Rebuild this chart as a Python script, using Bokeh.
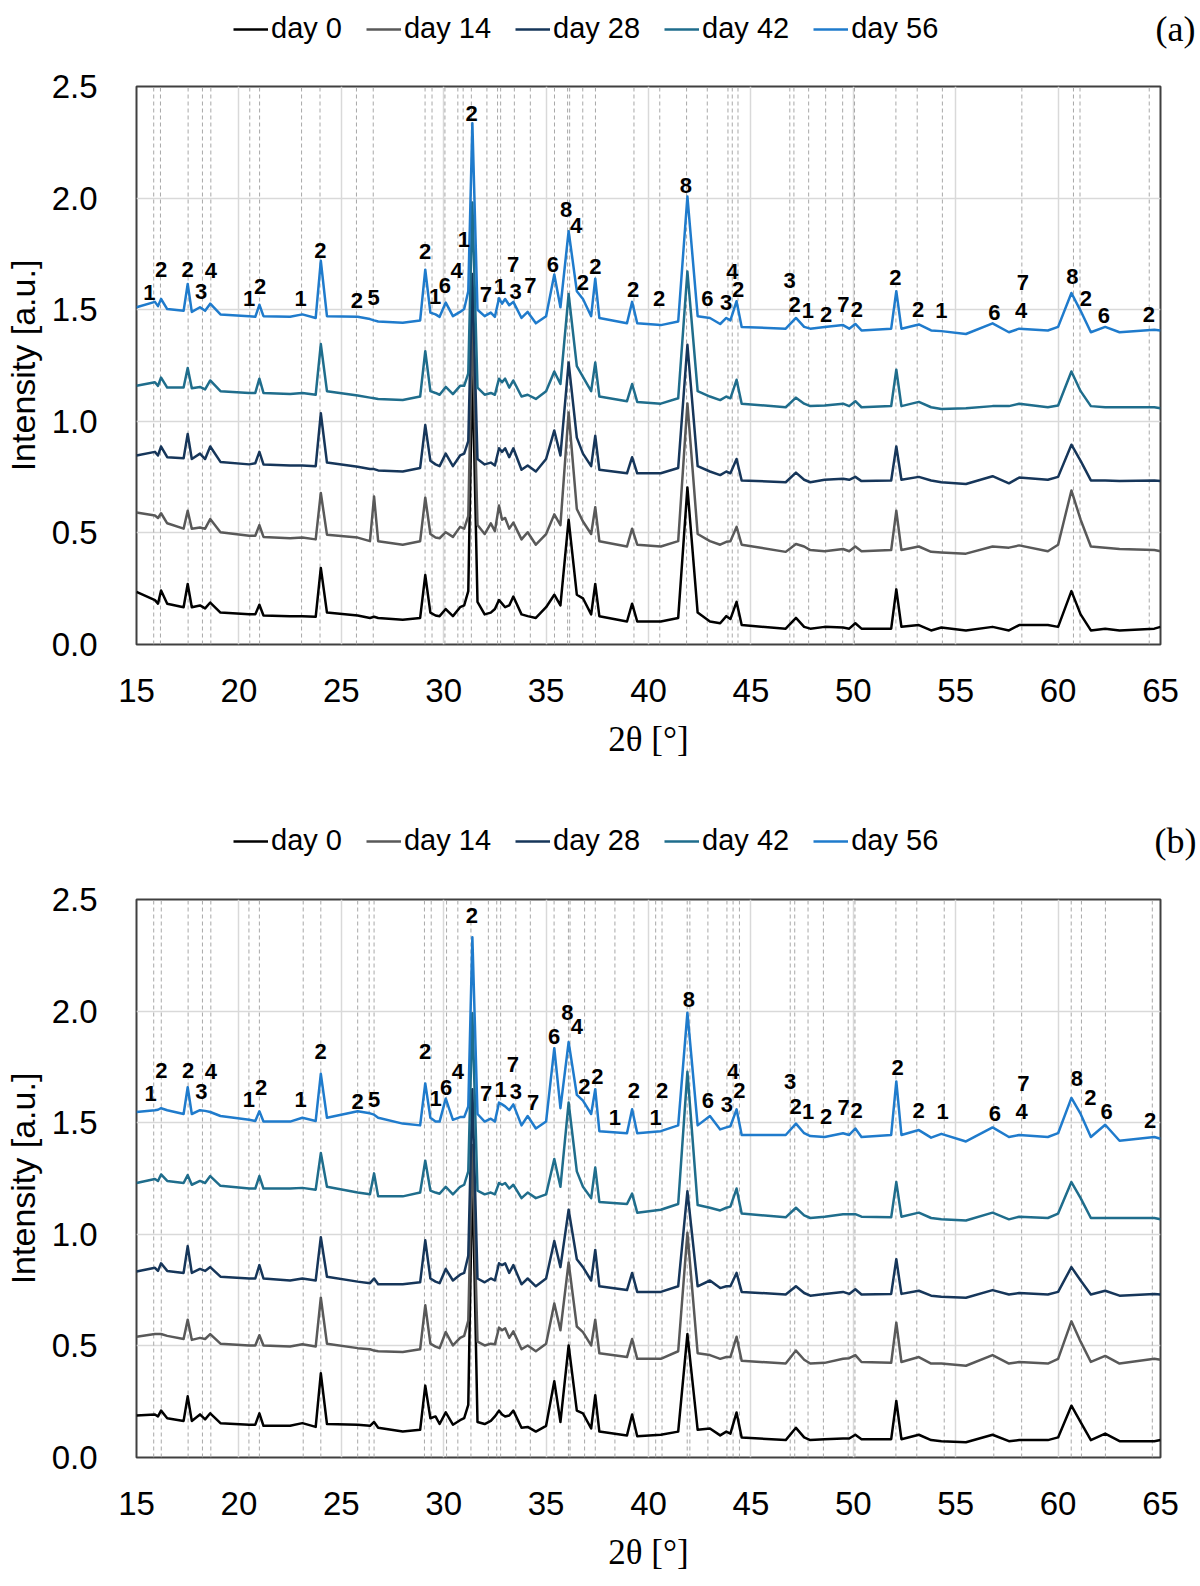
from bokeh.plotting import figure
from bokeh.models import (Range1d, FixedTicker, PrintfTickFormatter, Legend,
                          LegendItem, Label, ColumnDataSource)
from bokeh.layouts import column
from bokeh.embed import file_html
from bokeh.resources import INLINE
from bokeh.core.properties import value

# ---------------- data ----------------
SERIES = ["day 0", "day 14", "day 28", "day 42", "day 56"]
COLORS = ["#000000", "#595959", "#16365a", "#1f6d8c", "#1f7bcc"]

X_TICKS = [15, 20, 25, 30, 35, 40, 45, 50, 55, 60, 65]
Y_TICKS = [0.0, 0.5, 1.0, 1.5, 2.0, 2.5]
X_MIN, X_MAX = 15, 65
Y_MIN, Y_MAX = 0.0, 2.5

TWO_THETA = [15.0, 15.9, 16.05, 16.2, 16.5, 17.3, 17.5, 17.7, 18.1, 18.35,
             18.6, 19.1, 20.5, 20.8, 21.0, 21.2, 22.5, 23.1, 23.75, 24.0,
             24.3, 25.8, 26.4, 26.6, 26.8, 28.0, 28.85, 29.1, 29.35, 29.6,
             29.8, 30.1, 30.45, 30.8, 31.0, 31.2, 31.4, 31.65, 32.0, 32.3,
             32.5, 32.7, 32.85, 33.0, 33.2, 33.4, 33.8, 34.1, 34.5, 35.0,
             35.4, 35.7, 36.1, 36.5, 36.8, 37.2, 37.4, 37.6, 38.95, 39.2,
             39.45, 40.6, 41.45, 41.9, 42.4, 43.0, 43.5, 43.8, 44.0, 44.3,
             44.55, 46.7, 47.2, 47.6, 47.9, 48.6, 49.5, 49.8, 50.1, 50.4,
             51.85, 52.1, 52.35, 53.2, 53.8, 54.3, 55.5, 56.8, 57.6, 58.1,
             59.5, 60.0, 60.65, 61.1, 61.6, 62.3, 63.0, 64.7, 65.0]

# panel (a)
A_DAY0 = [0.236, 0.199, 0.183, 0.242, 0.183, 0.167, 0.271, 0.167, 0.175, 0.162,
          0.188, 0.143, 0.135, 0.135, 0.178, 0.130, 0.127, 0.127, 0.124, 0.343,
          0.143, 0.130, 0.119, 0.124, 0.119, 0.111, 0.119, 0.311, 0.143, 0.130,
          0.127, 0.159, 0.127, 0.167, 0.175, 0.239, 1.250, 0.191, 0.135, 0.143,
          0.159, 0.199, 0.183, 0.167, 0.175, 0.215, 0.135, 0.127, 0.119, 0.167,
          0.223, 0.175, 0.559, 0.223, 0.207, 0.135, 0.271, 0.127, 0.103, 0.183,
          0.103, 0.103, 0.119, 0.703, 0.143, 0.103, 0.095, 0.127, 0.114, 0.191,
          0.087, 0.071, 0.119, 0.079, 0.071, 0.079, 0.076, 0.071, 0.095, 0.071,
          0.071, 0.247, 0.079, 0.087, 0.063, 0.076, 0.063, 0.079, 0.063, 0.087,
          0.087, 0.079, 0.239, 0.135, 0.063, 0.071, 0.063, 0.071, 0.079]
A_DAY14 = [0.591, 0.578, 0.567, 0.588, 0.543, 0.519, 0.599, 0.519, 0.524, 0.519,
           0.562, 0.503, 0.487, 0.487, 0.535, 0.482, 0.476, 0.479, 0.471, 0.679,
           0.492, 0.479, 0.463, 0.663, 0.463, 0.447, 0.463, 0.658, 0.495, 0.479,
           0.476, 0.503, 0.482, 0.527, 0.519, 0.575, 1.450, 0.535, 0.495, 0.543,
           0.508, 0.623, 0.559, 0.567, 0.519, 0.546, 0.471, 0.503, 0.447, 0.495,
           0.583, 0.535, 1.039, 0.607, 0.551, 0.495, 0.615, 0.463, 0.439, 0.519,
           0.447, 0.439, 0.463, 1.080, 0.495, 0.463, 0.447, 0.460, 0.463, 0.527,
           0.447, 0.415, 0.450, 0.439, 0.423, 0.418, 0.428, 0.418, 0.439, 0.418,
           0.423, 0.599, 0.423, 0.439, 0.415, 0.412, 0.407, 0.439, 0.434, 0.444,
           0.418, 0.447, 0.690, 0.559, 0.439, 0.434, 0.428, 0.423, 0.418]
A_DAY28 = [0.847, 0.863, 0.847, 0.887, 0.839, 0.834, 0.943, 0.831, 0.855, 0.831,
           0.887, 0.818, 0.807, 0.812, 0.863, 0.807, 0.802, 0.802, 0.799, 1.036,
           0.815, 0.796, 0.786, 0.786, 0.780, 0.775, 0.791, 0.983, 0.823, 0.807,
           0.799, 0.855, 0.799, 0.847, 0.855, 0.911, 1.660, 0.831, 0.807, 0.815,
           0.802, 0.879, 0.863, 0.879, 0.839, 0.879, 0.783, 0.802, 0.775, 0.831,
           0.959, 0.847, 1.263, 0.927, 0.855, 0.799, 0.935, 0.783, 0.767, 0.839,
           0.767, 0.767, 0.791, 1.343, 0.799, 0.775, 0.759, 0.775, 0.767, 0.831,
           0.735, 0.727, 0.770, 0.738, 0.727, 0.738, 0.743, 0.738, 0.751, 0.732,
           0.735, 0.887, 0.738, 0.751, 0.735, 0.727, 0.719, 0.754, 0.722, 0.748,
           0.738, 0.751, 0.895, 0.823, 0.735, 0.735, 0.732, 0.735, 0.732]
A_DAY42 = [1.159, 1.175, 1.159, 1.196, 1.151, 1.151, 1.239, 1.148, 1.154, 1.143,
           1.183, 1.135, 1.127, 1.127, 1.191, 1.127, 1.122, 1.127, 1.119, 1.346,
           1.135, 1.116, 1.106, 1.103, 1.100, 1.095, 1.111, 1.314, 1.135, 1.127,
           1.119, 1.154, 1.122, 1.159, 1.159, 1.215, 1.980, 1.151, 1.119, 1.127,
           1.119, 1.191, 1.175, 1.191, 1.151, 1.183, 1.111, 1.119, 1.100, 1.135,
           1.223, 1.167, 1.570, 1.247, 1.199, 1.135, 1.263, 1.111, 1.090, 1.167,
           1.087, 1.079, 1.103, 1.671, 1.135, 1.111, 1.095, 1.111, 1.103, 1.186,
           1.079, 1.063, 1.106, 1.079, 1.068, 1.071, 1.079, 1.068, 1.090, 1.063,
           1.068, 1.231, 1.068, 1.087, 1.063, 1.055, 1.058, 1.068, 1.068, 1.079,
           1.063, 1.071, 1.223, 1.135, 1.068, 1.063, 1.063, 1.063, 1.058]
A_DAY56 = [1.511, 1.535, 1.516, 1.548, 1.503, 1.495, 1.615, 1.490, 1.511, 1.495,
           1.527, 1.479, 1.471, 1.468, 1.522, 1.471, 1.468, 1.479, 1.463, 1.719,
           1.471, 1.468, 1.458, 1.452, 1.447, 1.442, 1.452, 1.679, 1.487, 1.479,
           1.468, 1.532, 1.471, 1.490, 1.503, 1.583, 2.335, 1.500, 1.471, 1.487,
           1.468, 1.551, 1.527, 1.548, 1.520, 1.535, 1.463, 1.490, 1.439, 1.471,
           1.658, 1.511, 1.852, 1.583, 1.548, 1.471, 1.639, 1.463, 1.439, 1.535,
           1.439, 1.431, 1.447, 2.007, 1.471, 1.463, 1.436, 1.463, 1.452, 1.538,
           1.423, 1.415, 1.463, 1.423, 1.415, 1.423, 1.431, 1.415, 1.436, 1.407,
           1.415, 1.583, 1.415, 1.434, 1.407, 1.404, 1.391, 1.439, 1.399, 1.415,
           1.407, 1.423, 1.575, 1.495, 1.399, 1.423, 1.399, 1.410, 1.407]

# panel (b)
B_DAY0 = [0.188, 0.193, 0.184, 0.210, 0.176, 0.164, 0.274, 0.164, 0.193, 0.171,
          0.198, 0.154, 0.147, 0.147, 0.198, 0.142, 0.142, 0.154, 0.137, 0.377,
          0.150, 0.147, 0.142, 0.159, 0.133, 0.116, 0.124, 0.322, 0.176, 0.184,
          0.150, 0.202, 0.147, 0.167, 0.176, 0.236, 1.300, 0.159, 0.150, 0.164,
          0.184, 0.210, 0.193, 0.184, 0.188, 0.210, 0.133, 0.137, 0.116, 0.142,
          0.342, 0.159, 0.502, 0.210, 0.198, 0.130, 0.279, 0.116, 0.099, 0.193,
          0.095, 0.102, 0.116, 0.553, 0.124, 0.130, 0.099, 0.116, 0.107, 0.202,
          0.090, 0.078, 0.133, 0.090, 0.078, 0.082, 0.085, 0.085, 0.102, 0.082,
          0.082, 0.253, 0.082, 0.102, 0.078, 0.073, 0.068, 0.102, 0.073, 0.078,
          0.078, 0.090, 0.232, 0.159, 0.078, 0.107, 0.073, 0.073, 0.078]
B_DAY14 = [0.541, 0.553, 0.553, 0.553, 0.545, 0.531, 0.617, 0.527, 0.536, 0.531,
           0.553, 0.510, 0.502, 0.502, 0.548, 0.502, 0.497, 0.507, 0.497, 0.716,
           0.510, 0.490, 0.485, 0.479, 0.476, 0.473, 0.485, 0.682, 0.510, 0.497,
           0.490, 0.562, 0.502, 0.536, 0.545, 0.613, 1.400, 0.519, 0.502, 0.510,
           0.507, 0.582, 0.570, 0.579, 0.536, 0.565, 0.485, 0.502, 0.476, 0.510,
           0.690, 0.570, 0.874, 0.587, 0.562, 0.502, 0.617, 0.467, 0.450, 0.531,
           0.442, 0.442, 0.476, 1.007, 0.467, 0.459, 0.442, 0.450, 0.450, 0.541,
           0.433, 0.421, 0.479, 0.438, 0.421, 0.424, 0.442, 0.445, 0.459, 0.428,
           0.424, 0.604, 0.428, 0.450, 0.421, 0.421, 0.411, 0.459, 0.421, 0.428,
           0.421, 0.442, 0.610, 0.519, 0.428, 0.455, 0.421, 0.442, 0.438]
B_DAY28 = [0.833, 0.850, 0.836, 0.870, 0.836, 0.827, 0.947, 0.827, 0.845, 0.836,
           0.853, 0.810, 0.802, 0.802, 0.862, 0.802, 0.793, 0.802, 0.793, 0.987,
           0.810, 0.788, 0.781, 0.802, 0.776, 0.776, 0.785, 0.973, 0.802, 0.788,
           0.781, 0.845, 0.793, 0.819, 0.827, 0.904, 1.650, 0.802, 0.785, 0.802,
           0.793, 0.870, 0.862, 0.870, 0.827, 0.862, 0.776, 0.802, 0.767, 0.802,
           0.970, 0.853, 1.110, 0.888, 0.853, 0.793, 0.930, 0.767, 0.750, 0.827,
           0.742, 0.742, 0.767, 1.193, 0.767, 0.793, 0.759, 0.767, 0.767, 0.827,
           0.742, 0.730, 0.767, 0.737, 0.725, 0.733, 0.742, 0.733, 0.754, 0.730,
           0.733, 0.888, 0.733, 0.747, 0.725, 0.720, 0.716, 0.750, 0.730, 0.737,
           0.730, 0.742, 0.853, 0.793, 0.730, 0.747, 0.725, 0.733, 0.730]
B_DAY42 = [1.230, 1.248, 1.239, 1.268, 1.239, 1.230, 1.265, 1.222, 1.239, 1.230,
           1.261, 1.217, 1.205, 1.205, 1.261, 1.205, 1.205, 1.208, 1.200, 1.364,
           1.213, 1.187, 1.179, 1.273, 1.170, 1.170, 1.187, 1.330, 1.196, 1.187,
           1.182, 1.213, 1.179, 1.213, 1.222, 1.282, 1.990, 1.196, 1.179, 1.187,
           1.179, 1.230, 1.222, 1.230, 1.205, 1.222, 1.162, 1.187, 1.162, 1.179,
           1.337, 1.213, 1.590, 1.282, 1.213, 1.162, 1.299, 1.145, 1.136, 1.182,
           1.097, 1.110, 1.136, 1.728, 1.131, 1.119, 1.107, 1.119, 1.124, 1.205,
           1.093, 1.076, 1.119, 1.085, 1.073, 1.079, 1.090, 1.090, 1.090, 1.079,
           1.076, 1.234, 1.079, 1.097, 1.073, 1.067, 1.062, 1.097, 1.067, 1.079,
           1.073, 1.093, 1.234, 1.162, 1.073, 1.073, 1.073, 1.073, 1.067]
B_DAY56 = [1.548, 1.556, 1.558, 1.565, 1.556, 1.539, 1.659, 1.539, 1.556, 1.553,
           1.548, 1.530, 1.513, 1.508, 1.551, 1.505, 1.505, 1.522, 1.508, 1.719,
           1.522, 1.551, 1.542, 1.536, 1.522, 1.496, 1.488, 1.676, 1.522, 1.505,
           1.505, 1.608, 1.513, 1.525, 1.525, 1.573, 2.331, 1.539, 1.505, 1.518,
           1.505, 1.590, 1.582, 1.573, 1.556, 1.582, 1.488, 1.530, 1.474, 1.505,
           1.834, 1.565, 1.861, 1.625, 1.599, 1.539, 1.650, 1.462, 1.453, 1.560,
           1.453, 1.462, 1.488, 1.993, 1.488, 1.530, 1.470, 1.479, 1.484, 1.560,
           1.445, 1.445, 1.496, 1.453, 1.440, 1.436, 1.453, 1.445, 1.474, 1.436,
           1.445, 1.685, 1.445, 1.467, 1.433, 1.450, 1.416, 1.479, 1.436, 1.445,
           1.436, 1.453, 1.611, 1.539, 1.436, 1.491, 1.419, 1.436, 1.428]

# peak (phase) labels
A_LABEL_X = [15.63, 16.20, 17.50, 18.15, 18.63, 20.50, 21.03, 23.01, 23.98, 25.76,
             26.58, 29.09, 29.58, 30.06, 30.63, 30.99, 31.36, 32.06, 32.74, 33.39,
             33.51, 34.23, 35.33, 35.98, 36.46, 36.79, 37.41, 39.25, 40.52, 41.82,
             42.87, 43.79, 44.09, 44.38, 46.89, 47.13, 47.78, 48.67, 49.52, 50.17,
             52.06, 53.17, 54.30, 56.89, 58.28, 58.19, 60.70, 61.35, 62.24, 64.43]
A_LABEL_Y = [1.575, 1.682, 1.682, 1.583, 1.676, 1.551, 1.602, 1.551, 1.767, 1.543,
             1.554, 1.762, 1.559, 1.607, 1.676, 1.815, 2.380, 1.570, 1.602, 1.703,
             1.583, 1.607, 1.703, 1.948, 1.879, 1.623, 1.695, 1.591, 1.548, 2.055,
             1.548, 1.532, 1.671, 1.591, 1.631, 1.522, 1.495, 1.479, 1.522, 1.503,
             1.644, 1.500, 1.495, 1.487, 1.623, 1.495, 1.647, 1.548, 1.474, 1.479]
A_LABEL_T = ["1", "2", "2", "3", "4", "1", "2", "1", "2", "2",
             "5", "2", "1", "6", "4", "1", "2", "7", "1", "7",
             "3", "7", "6", "8", "4", "2", "2", "2", "2", "8",
             "6", "3", "4", "2", "3", "2", "1", "2", "7", "2",
             "2", "2", "1", "6", "7", "4", "8", "2", "6", "2"]

B_LABEL_X = [15.69, 16.21, 17.52, 18.17, 18.63, 20.49, 21.09, 23.01, 23.99, 25.80,
             26.60, 29.09, 29.60, 30.12, 30.69, 31.38, 32.07, 32.78, 33.38, 33.52,
             34.36, 35.39, 36.04, 36.50, 36.87, 37.50, 38.36, 39.29, 40.35, 40.66,
             41.97, 42.90, 43.83, 44.13, 44.44, 46.92, 47.18, 47.79, 48.67, 49.53,
             50.16, 52.17, 53.19, 54.36, 56.91, 58.31, 58.22, 60.92, 61.57, 62.37,
             64.49]
B_LABEL_Y = [1.633, 1.736, 1.736, 1.638, 1.731, 1.604, 1.656, 1.604, 1.817, 1.594,
             1.604, 1.817, 1.608, 1.656, 1.731, 2.427, 1.633, 1.650, 1.759, 1.638,
             1.590, 1.885, 1.993, 1.933, 1.662, 1.707, 1.525, 1.645, 1.525, 1.645,
             2.050, 1.600, 1.582, 1.731, 1.645, 1.685, 1.573, 1.548, 1.530, 1.570,
             1.556, 1.748, 1.553, 1.548, 1.542, 1.676, 1.548, 1.697, 1.611, 1.548,
             1.508]
B_LABEL_T = ["1", "2", "2", "3", "4", "1", "2", "1", "2", "2",
             "5", "2", "1", "6", "4", "2", "7", "1", "7", "3",
             "7", "6", "8", "4", "2", "2", "1", "2", "1", "2",
             "8", "6", "3", "4", "2", "3", "2", "1", "2", "7",
             "2", "2", "2", "1", "6", "7", "4", "8", "2", "6",
             "2"]

# reference peak positions (dashed markers)
A_MARKERS = [15.84, 16.17, 17.52, 18.22, 18.63, 20.53, 21.01, 23.06, 23.96, 25.74,
             26.56, 29.09, 29.43, 30.06, 30.69, 30.95, 31.35, 32.11, 32.63, 32.78,
             33.45, 34.23, 35.41, 36.05, 36.15, 36.79, 37.41, 39.29, 40.55, 41.86,
             42.87, 43.88, 44.09, 44.37, 46.90, 47.10, 47.82, 48.65, 49.48, 50.06,
             52.08, 53.12, 54.35, 58.23, 60.75, 61.07, 64.45]
B_MARKERS = [15.84, 16.21, 17.52, 18.22, 18.63, 20.49, 21.00, 23.14, 24.00, 25.80,
             26.36, 26.60, 29.06, 29.39, 30.14, 30.69, 31.33, 32.18, 32.59, 32.78,
             33.52, 34.23, 35.39, 36.09, 36.17, 36.88, 37.40, 38.36, 39.29, 40.35,
             40.66, 41.89, 42.02, 42.90, 43.83, 44.13, 44.44, 46.92, 47.14, 47.79,
             48.54, 49.75, 50.08, 52.08, 53.10, 54.44, 56.86, 58.22, 60.64, 61.14,
             62.31, 64.60]

for arr in (A_DAY0, A_DAY14, A_DAY28, A_DAY42, A_DAY56,
            B_DAY0, B_DAY14, B_DAY28, B_DAY42, B_DAY56):
    assert len(arr) == len(TWO_THETA)
assert len(A_LABEL_X) == len(A_LABEL_Y) == len(A_LABEL_T)
assert len(B_LABEL_X) == len(B_LABEL_Y) == len(B_LABEL_T)

SANS = "Liberation Sans"
SERIF = "Liberation Serif"
PAGE_W = 1200


def no_align(fig):
    try:
        fig.frame_align = False
    except Exception:
        pass


def make_header(tag, height, cy):
    """Strip above a panel carrying the series legend and the panel tag."""
    h = figure(width=PAGE_W, height=height,
               x_range=Range1d(0, PAGE_W), y_range=Range1d(0, height),
               output_backend="svg", toolbar_location=None,
               x_axis_type=None, y_axis_type=None,
               min_border=0, min_border_left=0, min_border_right=0,
               min_border_top=0, min_border_bottom=0)
    no_align(h)
    h.outline_line_color = None
    h.background_fill_color = "white"
    h.border_fill_color = "white"
    items = []
    for name, col in zip(SERIES, COLORS):
        # legend key only: a single point lies outside the strip
        r = h.line(x=[-50], y=[-50], line_color=col, line_width=2.5)
        items.append(LegendItem(label=name, renderers=[r]))
    legend = Legend(items=items, orientation="horizontal",
                    location=(233, cy - 17), glyph_width=35, glyph_height=20,
                    label_standoff=3, spacing=24, padding=0, margin=0,
                    border_line_color=None, background_fill_alpha=0,
                    label_text_font=SANS, label_text_font_size="29px",
                    label_text_color="#000000")
    h.add_layout(legend)
    h.add_layout(Label(x=1175, y=cy, text=tag, text_font=SERIF,
                       text_font_size="36px", text_align="center",
                       text_baseline="middle", text_color="#000000"))
    return h


def make_panel(curves, lx, ly, lt, markers, height, top, bottom):
    p = figure(width=PAGE_W, height=height,
               x_range=Range1d(X_MIN, X_MAX), y_range=Range1d(Y_MIN, Y_MAX),
               output_backend="svg", toolbar_location=None,
               min_border_left=132, min_border_right=40,
               min_border_top=top, min_border_bottom=bottom)
    no_align(p)
    p.background_fill_color = "white"
    p.border_fill_color = "white"
    p.outline_line_color = "#404040"
    p.outline_line_width = 2
    p.outline_line_alpha = 1.0

    p.xaxis.ticker = FixedTicker(ticks=X_TICKS)
    p.yaxis.ticker = FixedTicker(ticks=Y_TICKS)
    p.yaxis.formatter = PrintfTickFormatter(format="%.1f")
    for ax in (p.xaxis[0], p.yaxis[0]):
        ax.axis_line_color = None
        ax.major_tick_line_color = None
        ax.minor_tick_line_color = None
        ax.major_tick_out = 0
        ax.major_tick_in = 0
        ax.major_label_text_font = SANS
        ax.major_label_text_font_size = "33px"
        ax.major_label_text_color = "#000000"
        ax.axis_label_text_font_style = "normal"
        ax.axis_label_text_color = "#000000"
    p.xaxis.axis_label = "2θ [°]"
    p.xaxis.axis_label_text_font = SERIF
    p.xaxis.axis_label_text_font_size = "35px"
    p.xaxis.major_label_standoff = 34
    p.xaxis.axis_label_standoff = 15
    p.yaxis.axis_label = "Intensity [a.u.]"
    p.yaxis.axis_label_text_font = SANS
    p.yaxis.axis_label_text_font_size = "34px"
    p.yaxis.major_label_standoff = 39
    p.yaxis.axis_label_standoff = 7

    p.xgrid.grid_line_color = "#d9d9d9"
    p.xgrid.grid_line_width = 1.5
    p.ygrid.grid_line_color = "#d9d9d9"
    p.ygrid.grid_line_width = 1.5

    msrc = ColumnDataSource(dict(x=markers, y0=[Y_MIN] * len(markers),
                                 y1=[Y_MAX] * len(markers)))
    p.segment(x0="x", y0="y0", x1="x", y1="y1", source=msrc,
              line_color="#a8a8a8", line_width=1, line_dash="4 3")

    for ys, col in zip(curves, COLORS):
        p.line(TWO_THETA, ys, line_color=col, line_width=2.5,
               line_join="round")

    lsrc = ColumnDataSource(dict(x=lx, y=ly, t=lt))
    p.text(x="x", y="y", text="t", source=lsrc, text_font=value(SANS),
           text_font_style="bold", text_font_size="22px",
           text_align="center", text_baseline="middle", text_color="#000000")
    return p


# page layout: header(a) 0-60, panel(a) 60-800, header(b) 800-873, panel(b) 873-1586
h1 = make_header("(a)", height=60, cy=32)
p1 = make_panel([A_DAY0, A_DAY14, A_DAY28, A_DAY42, A_DAY56],
                A_LABEL_X, A_LABEL_Y, A_LABEL_T, A_MARKERS,
                height=740, top=26, bottom=156)
h2 = make_header("(b)", height=73, cy=33)
p2 = make_panel([B_DAY0, B_DAY14, B_DAY28, B_DAY42, B_DAY56],
                B_LABEL_X, B_LABEL_Y, B_LABEL_T, B_MARKERS,
                height=713, top=26, bottom=129)

layout = column(h1, p1, h2, p2)
open("out.html", "w").write(file_html(layout, INLINE))
